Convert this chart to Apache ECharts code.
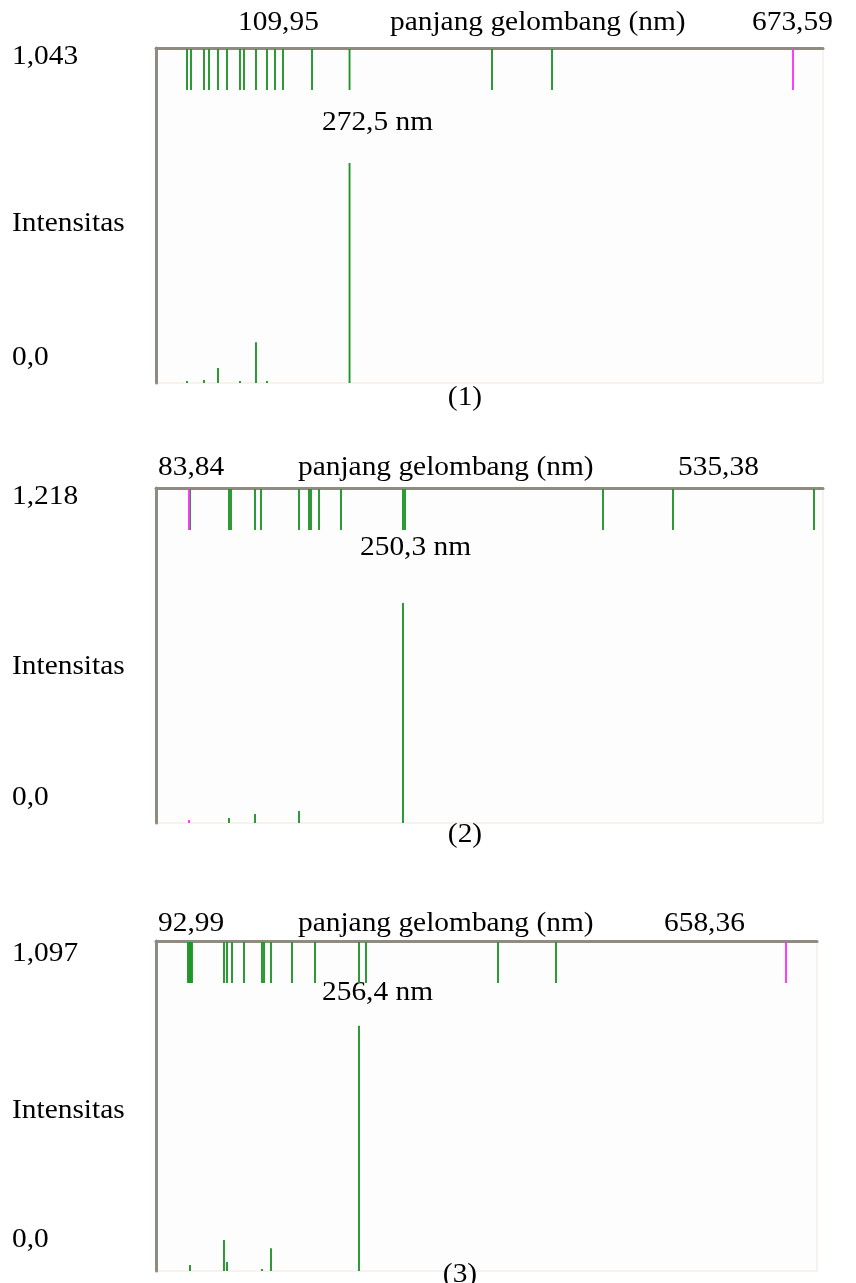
<!DOCTYPE html>
<html>
<head>
<meta charset="utf-8" />
<script src="https://cdn.jsdelivr.net/npm/echarts@6/dist/echarts.min.js"></script>
<style>
html, body { margin: 0; padding: 0; background: #fff; }
#main { width: 856px; height: 1283px; }
</style>
</head>
<body>
<div id="main"></div>
<script type="text/javascript">
// axis ranges (nm) and intensity maximum of each panel
var xMin = [109.95, 83.84, 92.99];
var xMax = [673.59, 535.38, 658.36];
var yMax = [1.043, 1.218, 1.097];

var minLabels = ['109,95', '83,84', '92,99'];
var maxLabels = ['673,59', '535,38', '658,36'];
var yMaxLabels = ['1,043', '1,218', '1,097'];
var peakLabels = ['272,5 nm', '250,3 nm', '256,4 nm'];
var panelLabels = ['(1)', '(2)', '(3)'];

// line markers along the top edge (nm)
var ticksGreen1 = [136.15, 139.53, 150.51, 154.74, 162.34, 169.95, 180.93, 184.31, 194.45, 203.75, 210.51, 217.27, 241.78, 273.5, 393.88, 444.59];
var ticksPink1 = [648.24];
var ticksGreen2 = [106.86, 133.26, 134.61, 150.86, 154.92, 180.65, 187.42, 188.77, 194.19, 209.08, 251.05, 252.41, 386.45, 433.84, 529.29];
var ticksPink2 = [106.18];
var ticksGreen3 = [120.36, 121.2, 122.07, 122.9, 123.78, 151.15, 153.72, 158.0, 168.26, 183.65, 185.37, 191.35, 209.31, 228.99, 266.62, 272.61, 385.51, 435.12];
var ticksPink3 = [631.85];

// spectrum lines: wavelength (nm) and intensity
var specX1 = [136.15, 150.51, 162.34, 180.93, 194.45, 203.75, 273.5];
var specY1 = [0.006, 0.009, 0.047, 0.006, 0.127, 0.006, 0.685];
var specX2 = [133.26, 150.86, 180.65, 251.05];
var specY2 = [0.018, 0.033, 0.044, 0.80];
var specPinkX2 = [106.18];
var specPinkY2 = [0.011];
var specX3 = [122.07, 151.15, 153.72, 183.65, 191.35, 266.62];
var specY3 = [0.02, 0.103, 0.03, 0.007, 0.076, 0.815];

var ticksGreen = [ticksGreen1, ticksGreen2, ticksGreen3];
var ticksPink = [ticksPink1, ticksPink2, ticksPink3];
var specX = [specX1, specX2, specX3];
var specY = [specY1, specY2, specY3];

var GREEN = '#22962a';
var PINK = '#ff33ff';
var FONT = '"Liberation Serif", "Times New Roman", serif';

var grids = [
    { left: 156, top: 48, width: 667, height: 335 },
    { left: 156, top: 488, width: 667, height: 335 },
    { left: 156, top: 941, width: 661, height: 330 }
];
// text positions per panel
var textPos = [
    { minX: 238, axisX: 390, maxX: 752, topY: 23, yMaxY: 57, peakX: 322, peakY: 123, intY: 224, zeroY: 358, numX: 465, numY: 398 },
    { minX: 158, axisX: 298, maxX: 678, topY: 468, yMaxY: 497, peakX: 360, peakY: 548, intY: 667, zeroY: 798, numX: 465, numY: 835 },
    { minX: 158, axisX: 298, maxX: 664, topY: 924, yMaxY: 954, peakX: 322, peakY: 993, intY: 1111, zeroY: 1240, numX: 460, numY: 1275 }
];

function tickItem(params, api) {
    var p = api.coord([api.value(0), api.value(1)]);
    return {
        type: 'line',
        shape: { x1: p[0], y1: p[1] + 1, x2: p[0], y2: p[1] + 42 },
        style: { stroke: api.visual('color'), lineWidth: 1.9 }
    };
}

function lineItem(params, api) {
    var top = api.coord([api.value(0), api.value(1)]);
    var base = api.coord([api.value(0), 0]);
    return {
        type: 'line',
        shape: { x1: top[0], y1: top[1], x2: base[0], y2: base[1] },
        style: { stroke: api.visual('color'), lineWidth: 1.9 }
    };
}

var option = {
    backgroundColor: '#ffffff',
    animation: false,
    grid: [],
    xAxis: [],
    yAxis: [],
    series: [],
    graphic: []
};

function txt(x, y, s, align) {
    return {
        type: 'text', x: x, y: y, scaleX: 1.05,
        style: { text: s, font: '28px ' + FONT, fill: '#000', textAlign: align || 'left', textVerticalAlign: 'middle' }
    };
}

for (var i = 0; i < 3; i++) {
    var g = grids[i];
    option.grid.push({
        left: g.left, top: g.top, width: g.width, height: g.height,
        show: true, backgroundColor: '#fdfdfd', borderColor: '#f4e6da', borderWidth: 1
    });
    option.xAxis.push({
        gridIndex: i, type: 'value', min: xMin[i], max: xMax[i], position: 'top',
        axisLine: { show: true, onZero: false, lineStyle: { color: '#8f8b80', width: 3 } },
        axisTick: { show: false }, axisLabel: { show: false }, splitLine: { show: false }
    });
    option.yAxis.push({
        gridIndex: i, type: 'value', min: 0, max: yMax[i],
        axisLine: { show: true, onZero: false, lineStyle: { color: '#8f8b80', width: 3 } },
        axisTick: { show: false }, axisLabel: { show: false }, splitLine: { show: false }
    });

    option.series.push({
        type: 'custom', xAxisIndex: i, yAxisIndex: i, renderItem: tickItem,
        itemStyle: { color: GREEN },
        data: ticksGreen[i].map(function (x) { return [x, yMax[i]]; })
    });
    option.series.push({
        type: 'custom', xAxisIndex: i, yAxisIndex: i, renderItem: tickItem,
        itemStyle: { color: PINK },
        data: ticksPink[i].map(function (x) { return [x, yMax[i]]; })
    });
    option.series.push({
        type: 'custom', xAxisIndex: i, yAxisIndex: i, renderItem: lineItem,
        itemStyle: { color: GREEN },
        data: specX[i].map(function (x, k) { return [x, specY[i][k]]; })
    });

    var t = textPos[i];
    option.graphic.push(txt(t.minX, t.topY, minLabels[i]));
    option.graphic.push(txt(t.axisX, t.topY, 'panjang gelombang (nm)'));
    option.graphic.push(txt(t.maxX, t.topY, maxLabels[i]));
    option.graphic.push(txt(12, t.yMaxY, yMaxLabels[i]));
    option.graphic.push(txt(t.peakX, t.peakY, peakLabels[i]));
    option.graphic.push(txt(12, t.intY, 'Intensitas'));
    option.graphic.push(txt(12, t.zeroY, '0,0'));
    option.graphic.push(txt(t.numX, t.numY, panelLabels[i], 'center'));
}

// small magenta line in panel 2
option.series.push({
    type: 'custom', xAxisIndex: 1, yAxisIndex: 1, renderItem: lineItem,
    itemStyle: { color: PINK },
    data: specPinkX2.map(function (x, k) { return [x, specPinkY2[k]]; })
});

var myChart = echarts.init(document.getElementById('main'));
myChart.setOption(option);
</script>
</body>
</html>
